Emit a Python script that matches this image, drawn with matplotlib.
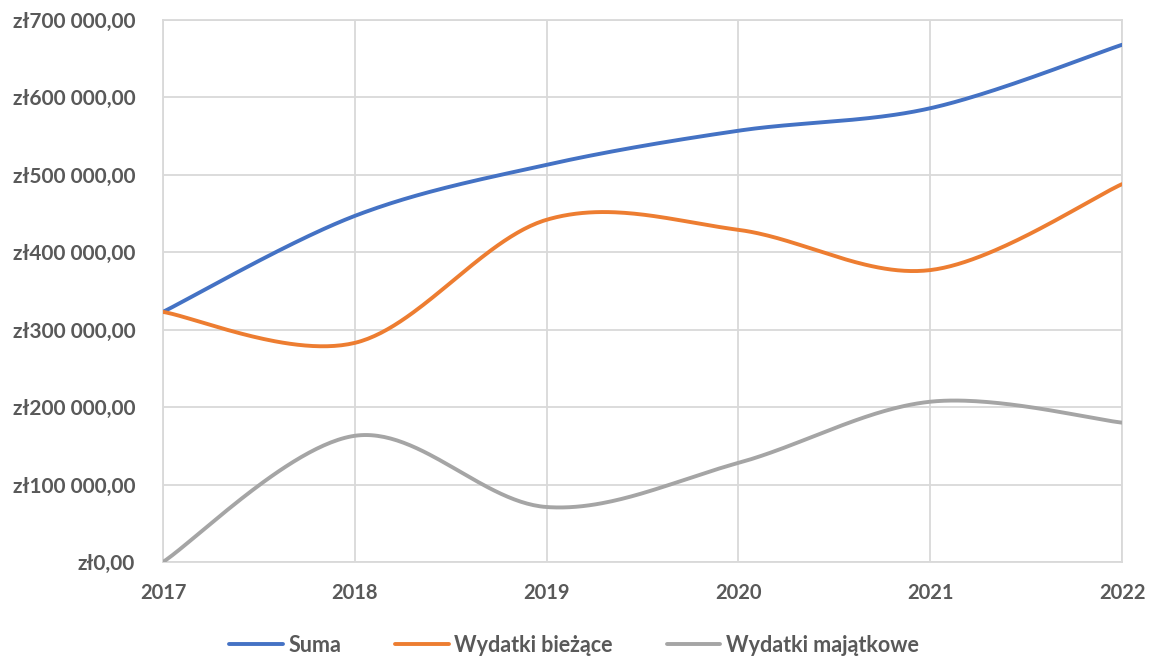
import numpy as np
import matplotlib
matplotlib.use("Agg")
import matplotlib.pyplot as plt
from matplotlib.ticker import FuncFormatter

years = [2017, 2018, 2019, 2020, 2021, 2022]
suma = [323000, 447000, 513000, 557000, 586000, 668000]
biezace = [323000, 283000, 442000, 429000, 377000, 488000]
majatkowe = [0, 163000, 71000, 128000, 207000, 180000]

series_names = ["Suma", "Wydatki bieżące", "Wydatki majątkowe"]
colors = ["#4472C4", "#ED7D31", "#A5A5A5"]

plt.rcParams['font.family'] = ['Lato', 'DejaVu Sans']
text_color = "#595959"


def smooth(x, y, n=60):
    x = np.asarray(x, float)
    y = np.asarray(y, float)
    px, py = [], []
    m = len(x)
    for i in range(m - 1):
        x0, y0 = (x[i - 1], y[i - 1]) if i > 0 else (x[i], y[i])
        x1, y1 = x[i], y[i]
        x2, y2 = x[i + 1], y[i + 1]
        x3, y3 = (x[i + 2], y[i + 2]) if i + 2 < m else (x2, y2)
        c1x, c1y = x1 + (x2 - x0) / 6, y1 + (y2 - y0) / 6
        c2x, c2y = x2 - (x3 - x1) / 6, y2 - (y3 - y1) / 6
        t = np.linspace(0, 1, n)
        bx = (1 - t) ** 3 * x1 + 3 * (1 - t) ** 2 * t * c1x + 3 * (1 - t) * t ** 2 * c2x + t ** 3 * x2
        by = (1 - t) ** 3 * y1 + 3 * (1 - t) ** 2 * t * c1y + 3 * (1 - t) * t ** 2 * c2y + t ** 3 * y2
        px.extend(bx)
        py.extend(by)
    return np.array(px), np.array(py)


fig = plt.figure(figsize=(11.53, 6.62), dpi=100)
ax = fig.add_axes([163 / 1153, 1 - 562 / 662, (1122 - 163) / 1153, (562 - 20) / 662])

for name, vals, c in zip(series_names, [suma, biezace, majatkowe], colors):
    sx, sy = smooth(years, vals)
    ax.plot(sx, sy, color=c, lw=2.8, label=name, solid_capstyle='round', zorder=3)

ax.set_xlim(years[0], years[-1])
ax.set_ylim(0, 700000)
ax.set_xticks(years)
ax.set_yticks(np.arange(0, 700001, 100000))


def fmt(v, pos):
    if v == 0:
        return "zł0,00"
    s = f"{int(v):,}".replace(",", " ")
    return f"zł{s},00"


ax.yaxis.set_major_formatter(FuncFormatter(fmt))
ax.grid(True, color="#D9D9D9", lw=1.3, zorder=0)
for sp in ax.spines.values():
    sp.set_color("#D9D9D9")
    sp.set_linewidth(1.3)
ax.tick_params(length=0, labelcolor=text_color)
ax.tick_params(axis='x', pad=15, labelsize=14.5)
ax.tick_params(axis='y', pad=20, labelsize=15)
for lab in ax.get_xticklabels() + ax.get_yticklabels():
    lab.set_fontweight('bold')

leg = fig.legend(loc='center', bbox_to_anchor=(574 / 1153, 1 - 645 / 662), ncol=3, frameon=False,
                 prop={'weight': 'bold', 'size': 15.5}, handlelength=2.5, columnspacing=2.5,
                 handletextpad=0.25)
for t in leg.get_texts():
    t.set_color(text_color)

fig.savefig("out.png", dpi=100)
